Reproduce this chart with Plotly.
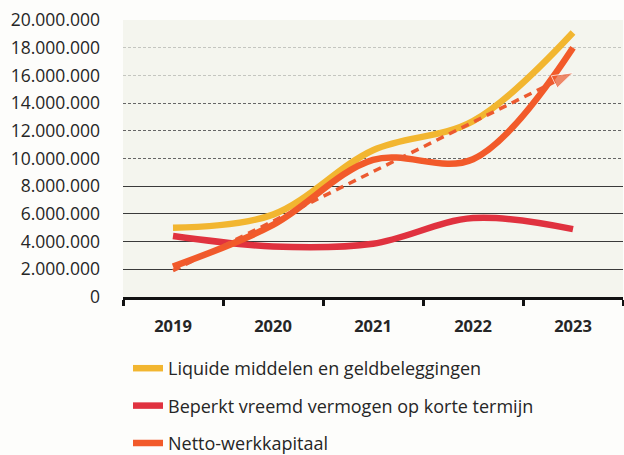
import plotly.graph_objects as go

# Years on the category axis
years = ["2019", "2020", "2021", "2022", "2023"]

# Series values (EUR)
liquide = [5000000, 5950000, 10600000, 12700000, 19100000]
beperkt_vv = [4400000, 3650000, 3850000, 5700000, 4900000]
netto_wk = [2200000, 5200000, 9900000, 9950000, 18000000]

# Trend arrow for the working capital (start / end)
trend_years = ["2019", "2023"]
trend_vals = [1900000, 16200000]

# Y tick values and labels
y_ticks = [0, 2000000, 4000000, 6000000, 8000000, 10000000,
           12000000, 14000000, 16000000, 18000000, 20000000]
y_labels = ["0", "2.000.000", "4.000.000", "6.000.000", "8.000.000",
            "10.000.000", "12.000.000", "14.000.000", "16.000.000",
            "18.000.000", "20.000.000"]
grid_solid = [2000000, 4000000, 6000000, 8000000]
grid_dark_dash = [10000000, 12000000, 14000000]
grid_light_dash = [16000000, 18000000, 20000000]

names = ["Liquide middelen en geldbeleggingen",
         "Beperkt vreemd vermogen op korte termijn",
         "Netto-werkkapitaal"]
colors = ["#f2b630", "#e0323f", "#f25a2a"]

fig = go.Figure()

# invisible traces carrying the grid-line axes
for ax in ["y2", "y3", "y4"]:
    fig.add_trace(go.Scatter(x=years, y=liquide, yaxis=ax, showlegend=False,
                             mode="none", hoverinfo="skip"))

for i, (nm, vals, col) in enumerate(zip(names, [liquide, beperkt_vv, netto_wk], colors)):
    fig.add_trace(go.Scatter(
        x=years, y=vals, name=nm, mode="lines",
        line=dict(color=col, width=6.5, shape="spline", smoothing=1.0),
        legendgroup=f"g{i}",
    ))

# dashed trend arrow
fig.add_trace(go.Scatter(
    x=trend_years, y=trend_vals, mode="lines+markers", showlegend=False,
    line=dict(color="#ec5a30", width=3.5, dash="8px,6px"),
    marker=dict(symbol="arrow", angleref="previous", size=[0, 22],
                color="#ec5a30"),
    hoverinfo="skip",
))

rng = [0, 20000000]
fig.update_layout(
    width=624, height=455,
    margin=dict(l=123, r=1, t=20, b=158, autoexpand=False),
    paper_bgcolor="#fdfdfb",
    plot_bgcolor="#f4f5ee",
    font=dict(family="Open Sans, sans-serif", color="#262626"),
    showlegend=True,
    legend=dict(
        xref="container", yref="container",
        x=128 / 624, y=1 - 350 / 455, xanchor="left", yanchor="top",
        font=dict(size=18, color="#262626"),
        tracegroupgap=11,
        bgcolor="rgba(0,0,0,0)",
        itemwidth=30,
    ),
    xaxis=dict(
        type="category", tickson="boundaries", range=[-0.5, 4.5],
        showline=True, linecolor="#111", linewidth=2.5,
        ticks="outside", ticklen=6, tickwidth=2.5, tickcolor="#111",
        showgrid=False, zeroline=False,
        tickfont=dict(size=16.5, color="#262626",
                      family="Open Sans, sans-serif", weight="bold"),
        ticklabelstandoff=12,
    ),
    yaxis=dict(
        range=rng, tickvals=y_ticks, ticktext=y_labels,
        showgrid=False, zeroline=False, showline=False,
        tickfont=dict(size=17.5, color="#262626"),
        ticklabelstandoff=22,
    ),
    yaxis2=dict(
        range=rng, overlaying="y", tickvals=grid_solid,
        showticklabels=False, showgrid=True, gridcolor="#3a3a3a",
        gridwidth=1.3, zeroline=False,
    ),
    yaxis3=dict(
        range=rng, overlaying="y", tickvals=grid_dark_dash,
        showticklabels=False, showgrid=True, gridcolor="#666",
        gridwidth=1.2, griddash="3px,2px", zeroline=False,
    ),
    yaxis4=dict(
        range=rng, overlaying="y", tickvals=grid_light_dash,
        showticklabels=False, showgrid=True, gridcolor="#c4c6c0",
        gridwidth=1, griddash="3px,2px", zeroline=False,
    ),
)

fig.write_html("out.html")
